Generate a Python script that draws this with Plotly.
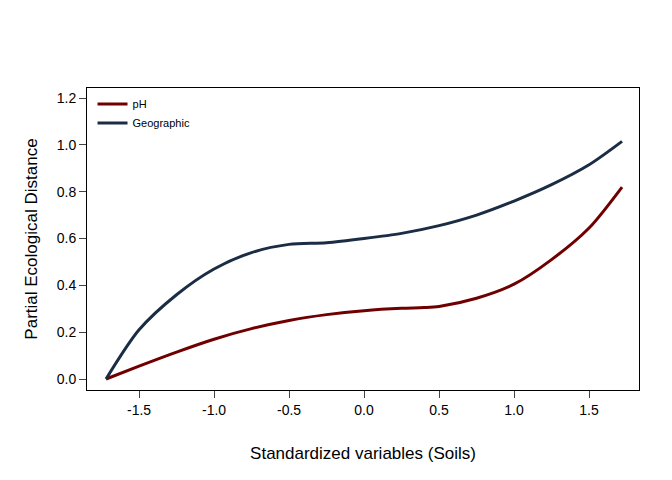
import plotly.graph_objects as go

x_ph = [-1.72, -1.5, -1.25, -1.0, -0.75, -0.5, -0.25, 0.0, 0.25, 0.4, 0.5, 0.75, 1.0, 1.25, 1.5, 1.72]
y_ph = [0.0, 0.055, 0.115, 0.17, 0.215, 0.25, 0.275, 0.292, 0.302, 0.305, 0.31, 0.345, 0.405, 0.51, 0.645, 0.82]
x_geo = [-1.72, -1.5, -1.25, -1.0, -0.75, -0.5, -0.25, 0.0, 0.25, 0.5, 0.75, 1.0, 1.25, 1.5, 1.72]
y_geo = [0.0, 0.21, 0.36, 0.47, 0.54, 0.575, 0.582, 0.6, 0.622, 0.655, 0.7, 0.76, 0.83, 0.915, 1.015]

fig = go.Figure()
fig.add_trace(go.Scatter(x=x_ph, y=y_ph, mode="lines", name="pH",
                         line=dict(color="#700000", width=3, shape="spline", smoothing=0.8)))
fig.add_trace(go.Scatter(x=x_geo, y=y_geo, mode="lines", name="Geographic",
                         line=dict(color="#1b2c45", width=3, shape="spline", smoothing=0.8)))
fig.update_layout(
    width=672, height=480, paper_bgcolor="white", plot_bgcolor="white",
    margin=dict(l=79, r=41, t=80, b=98),
    font=dict(family="Liberation Sans, Arial", size=14, color="black"),
    legend=dict(x=0.01, y=0.995, xanchor="left", yanchor="top", bgcolor="rgba(0,0,0,0)",
                font=dict(size=11), tracegroupgap=0),
    xaxis=dict(range=[-1.847, 1.833], tickvals=[-1.5, -1.0, -0.5, 0.0, 0.5, 1.0, 1.5],
               ticktext=["-1.5", "-1.0", "-0.5", "0.0", "0.5", "1.0", "1.5"],
               ticks="outside", ticklen=7, showline=True, linecolor="black", mirror=True,
               showgrid=False, zeroline=False, automargin=False,
               title=dict(text="Standardized variables (Soils)", standoff=30)),
    yaxis=dict(range=[-0.047, 1.243], tickvals=[0, 0.2, 0.4, 0.6, 0.8, 1.0, 1.2],
               ticktext=["0.0", "0.2", "0.4", "0.6", "0.8", "1.0", "1.2"],
               ticks="outside", ticklen=7, showline=True, linecolor="black", mirror=True,
               showgrid=False, zeroline=False, automargin=False,
               title=dict(text="Partial Ecological Distance", standoff=14)),
)
fig.write_html("out.html")
